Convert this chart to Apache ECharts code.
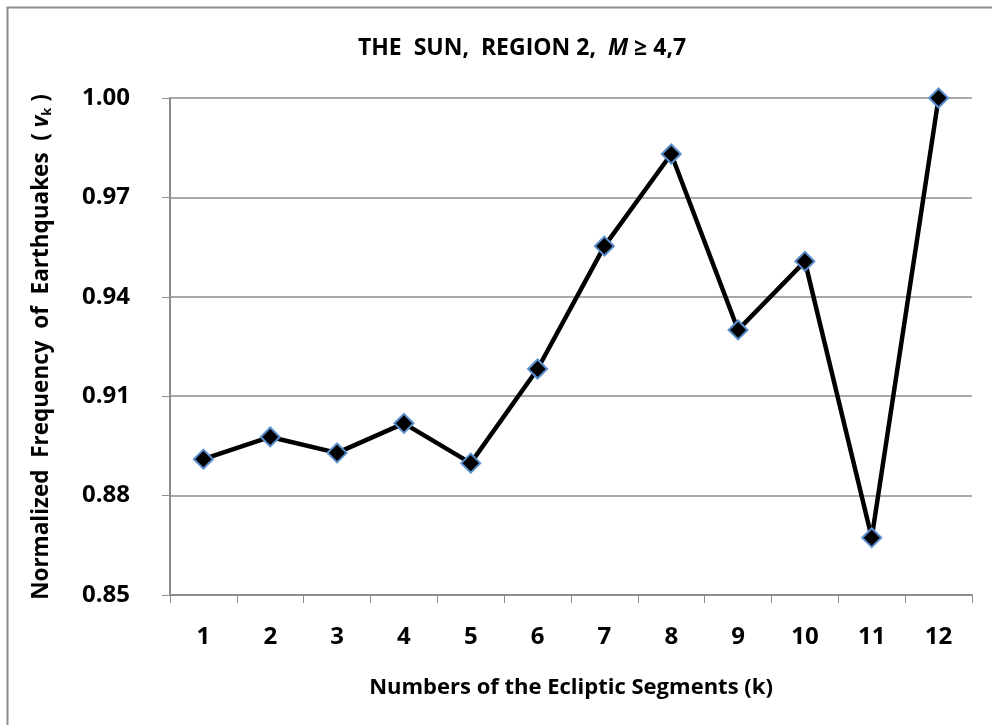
<!DOCTYPE html>
<html>
<head>
<meta charset="utf-8">
<script src="https://cdn.jsdelivr.net/npm/echarts@6/dist/echarts.min.js"></script>
<style>
  html, body { margin: 0; padding: 0; background: #fff; }
  #chart { width: 992px; height: 725px; }
</style>
</head>
<body>
<div id="chart"></div>
<script>
const segments = ["1", "2", "3", "4", "5", "6", "7", "8", "9", "10", "11", "12"];
const frequency = [0.891, 0.8977, 0.8929, 0.9018, 0.8898, 0.9182, 0.9553, 0.9831, 0.9300, 0.9507, 0.8673, 1.0];
const yTicks = { min: 0.85, max: 1.0, step: 0.03 };

const font = "'Open Sans', 'Liberation Sans', sans-serif";
const chart = echarts.init(document.getElementById("chart"));

const option = {
  animation: false,
  backgroundColor: "#fff",
  graphic: [
    {
      type: "rect",
      shape: { x: 7.5, y: 7.5, width: 1100, height: 1000 },
      style: { fill: "none", stroke: "#8c8c8c", lineWidth: 2 },
      silent: true
    },
    {
      type: "text",
      x: 522,
      y: 48,
      style: {
        text: "{b|THE  SUN,  REGION 2,  }{i|M}{b| ≥ 4,7}",
        align: "center",
        verticalAlign: "middle",
        rich: {
          b: { fontFamily: font, fontWeight: "bold", fontSize: 23, fill: "#000" },
          i: { fontFamily: font, fontWeight: "bold", fontStyle: "italic", fontSize: 23, fill: "#000" }
        }
      }
    },
    {
      type: "text",
      x: 42,
      y: 347,
      rotation: Math.PI / 2,
      style: {
        text: "{n|Normalized  Frequency  of  Earthquakes  ( }{v|v}{k|k}{n| )}",
        align: "center",
        verticalAlign: "middle",
        rich: {
          n: { fontFamily: font, fontWeight: "bold", fontSize: 22.5, fill: "#000" },
          v: { fontFamily: font, fontWeight: "bold", fontStyle: "italic", fontSize: 22.5, fill: "#000" },
          k: { fontFamily: font, fontWeight: "bold", fontSize: 13, fill: "#000", padding: [11, 0, 0, 0] }
        }
      }
    }
  ],
  grid: { left: 170, right: 20, top: 98, bottom: 130 },
  xAxis: {
    type: "category",
    data: segments,
    boundaryGap: true,
    axisLine: { lineStyle: { color: "#8c8c8c", width: 2 } },
    axisTick: { show: true, length: 8, interval: 0, lineStyle: { color: "#8c8c8c", width: 1 } },
    axisLabel: { color: "#000", fontFamily: font, fontWeight: "bold", fontSize: 24, margin: 30 },
    name: "Numbers of the Ecliptic Segments (k)",
    nameLocation: "middle",
    nameGap: 82,
    nameTextStyle: { color: "#000", fontFamily: font, fontWeight: "bold", fontSize: 22 }
  },
  yAxis: {
    type: "value",
    min: yTicks.min,
    max: yTicks.max,
    interval: yTicks.step,
    axisLine: { show: true, lineStyle: { color: "#8c8c8c", width: 2 } },
    axisTick: { show: true, length: 8, inside: false, lineStyle: { color: "#8c8c8c" } },
    axisLabel: {
      color: "#000", fontFamily: font, fontWeight: "bold", fontSize: 24, margin: 40,
      formatter: v => v.toFixed(2)
    },
    splitLine: { lineStyle: { color: "#8c8c8c", width: 1.5 } }
  },
  series: [
    {
      type: "line",
      data: frequency,
      symbol: "diamond",
      symbolSize: 19,
      lineStyle: { color: "#000", width: 4.5 },
      itemStyle: { color: "#000", borderColor: "#5b8fcf", borderWidth: 2 },
      z: 3
    }
  ]
};

chart.setOption(option);
window.addEventListener("resize", function () {
  chart.resize();
});
</script>
</body>
</html>
